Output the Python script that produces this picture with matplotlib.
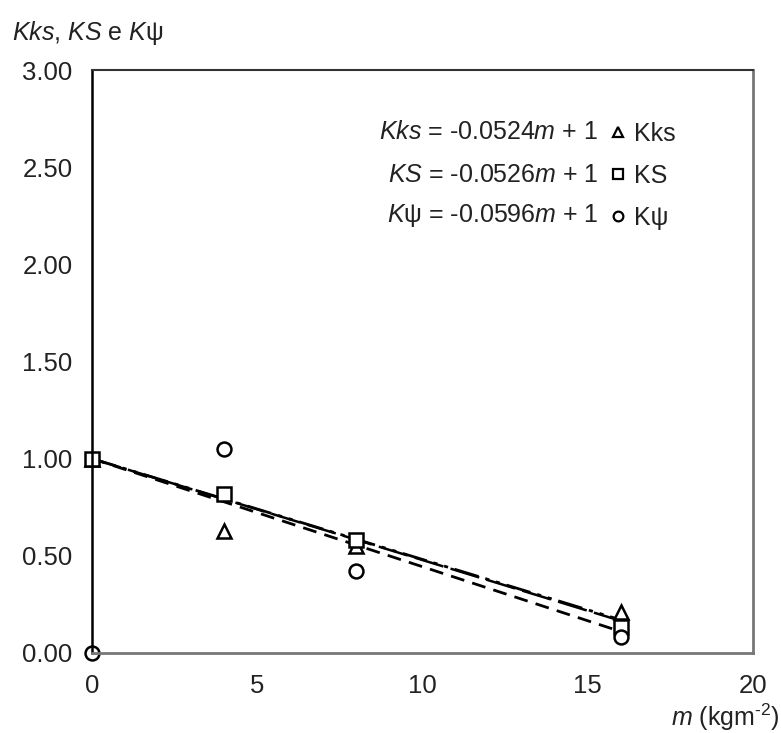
import matplotlib.pyplot as plt
from matplotlib.lines import Line2D

plt.rcParams['font.family'] = ['Liberation Sans', 'DejaVu Sans']
plt.rcParams['mathtext.fontset'] = 'custom'
plt.rcParams['mathtext.rm'] = 'Liberation Sans'
plt.rcParams['mathtext.it'] = 'Liberation Sans:italic'

m = [0, 4, 8, 16]
kks = [1.00, 0.63, 0.55, 0.21]
ks = [1.00, 0.82, 0.58, 0.135]
kpsi = [0.00, 1.05, 0.42, 0.08]

# trend lines as drawn, at m = 0 and m = 16
fit_m = [0, 16]
kks_fit = [1.0, 0.17]
ks_fit = [1.0, 0.165]
kpsi_fit = [1.0, 0.11]

eq_texts = ['$Kks$ = -0.0524$m$ + 1', '$KS$ = -0.0526$m$ + 1', '$K$ψ = -0.0596$m$ + 1']

fig = plt.figure(figsize=(7.81, 7.33), dpi=100)
ax = fig.add_axes([0.1178, 0.1092, 0.8464, 0.7953])

ax.plot(fit_m, kks_fit, color='black', lw=2, dashes=(9, 2.5, 1.5, 2.5, 1.5, 2.5))
ax.plot(fit_m, ks_fit, color='black', lw=1.8, dashes=(12, 3))
ax.plot(fit_m, kpsi_fit, color='black', lw=2, dashes=(5, 3))

ms = 10
ax.plot(m, kks, ls='none', marker='^', ms=ms, mfc='white', mec='black', mew=1.8, clip_on=False)
ax.plot(m, ks, ls='none', marker='s', ms=ms, mfc='white', mec='black', mew=1.8, clip_on=False)
ax.plot(m, kpsi, ls='none', marker='o', ms=ms, mfc='white', mec='black', mew=1.8, clip_on=False)

ax.set_xlim(0, 20)
ax.set_ylim(0, 3)
ax.set_xticks([0, 5, 10, 15, 20])
ax.set_yticks([0, 0.5, 1.0, 1.5, 2.0, 2.5, 3.0])
ax.set_yticklabels(['%.2f' % v for v in ax.get_yticks()])
ax.tick_params(length=0, labelsize=18.5, colors='#222222')
ax.tick_params(axis='x', pad=15)
ax.tick_params(axis='y', pad=14)

ax.spines['left'].set_color('black')
ax.spines['left'].set_linewidth(1.8)
ax.spines['top'].set_color('#333333')
ax.spines['top'].set_linewidth(1.5)
ax.spines['right'].set_color('#777777')
ax.spines['right'].set_linewidth(2)
ax.spines['bottom'].set_color('#777777')
ax.spines['bottom'].set_linewidth(2)

# equations
eq_y = [2.68, 2.46, 2.25]
for t, y in zip(eq_texts, eq_y):
    ax.text(0.766, y, t, transform=ax.get_yaxis_transform(), ha='right', va='center',
            fontsize=18, color='#222222')

handles = [Line2D([], [], ls='none', marker='^', ms=7, mfc='white', mec='black', mew=1.6),
           Line2D([], [], ls='none', marker='s', ms=7, mfc='white', mec='black', mew=1.6),
           Line2D([], [], ls='none', marker='o', ms=7, mfc='white', mec='black', mew=1.6)]
ax.legend(handles, ['Kks', 'KS', 'Kψ'], loc='upper left', bbox_to_anchor=(0.75, 0.95),
          frameon=False, fontsize=18, handlelength=0.6, handletextpad=0.35,
          labelspacing=0.72, labelcolor='#222222')

fig.text(0.015, 0.955, '$Kks$, $KS$ e $K$ψ', fontsize=18, color='#222222', va='center')
fig.text(0.998, 0.022, r'$m$ (kgm$^{\text{-2}}$)', fontsize=18, color='#222222', ha='right', va='center')

fig.savefig('out.png', dpi=100)
